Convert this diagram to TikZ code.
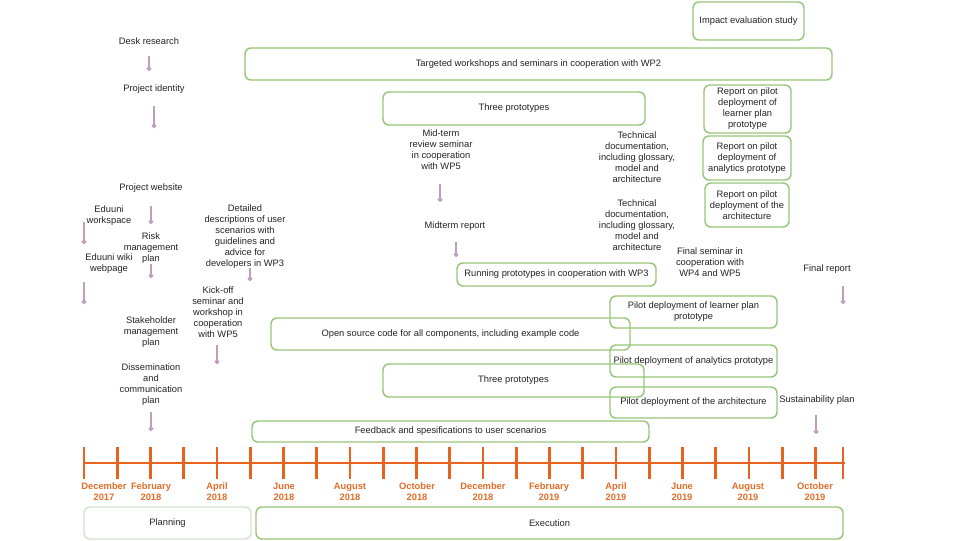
\documentclass[tikz,border=0pt]{standalone}
\usepackage{fontspec}
\setmainfont{Liberation Sans}
\usetikzlibrary{arrows.meta}
\definecolor{boxgreen}{RGB}{150,198,122}
\definecolor{palegreen}{RGB}{210,226,206}
\definecolor{tlorange}{RGB}{232,100,30}
\definecolor{lborange}{RGB}{226,108,40}
\definecolor{mauve}{RGB}{192,158,188}
\definecolor{txt}{RGB}{35,35,35}
\begin{document}
\begin{tikzpicture}[x=0.75pt,y=-0.75pt,
  every node/.style={font=\fontsize{7}{8.25}\selectfont, text=txt, align=center, inner sep=0pt},
  gbox/.style={draw=boxgreen, line width=1.1pt, rounded corners=4.5pt},
  pbox/.style={draw=palegreen, line width=1.1pt, rounded corners=4.5pt},
  marrow/.style={draw=mauve, line width=0.9pt, -{Circle[length=3.4pt]}},
  tl/.style={draw=tlorange, line width=2.2pt},
  mlabel/.style={text=lborange, font=\fontsize{7}{8.25}\selectfont\bfseries}
]
\useasboundingbox (0,0) rectangle (960,540);

% ---------- green boxes ----------
\node[gbox, minimum width=83.25pt, minimum height=28.5pt] (impact) at (748.5,21) {Impact evaluation study};
\node[gbox, minimum width=440.25pt, minimum height=24pt] (targeted) at (538.5,64) {Targeted workshops and seminars in cooperation with WP2};
\node[gbox, minimum width=196.5pt, minimum height=24.75pt] (threeA) at (514,108.5) {Three prototypes};
\node[gbox, minimum width=65.25pt, minimum height=36pt] (repA) at (747.5,109) {Report on pilot\\deployment of\\learner plan\\prototype};
\node[gbox, minimum width=66pt, minimum height=33pt] (repB) at (747,158) {Report on pilot\\deployment of\\analytics prototype};
\node[gbox, minimum width=63pt, minimum height=33pt] (repC) at (747,205) {Report on pilot\\deployment of the\\architecture};
\node[gbox, minimum width=149.25pt, minimum height=17.25pt] (running) at (556.5,274.5) {Running prototypes in cooperation with WP3};
\node[gbox, minimum width=125.25pt, minimum height=24pt] (pilotA) at (693.5,312) {Pilot deployment of learner plan\\prototype};
\node[gbox, minimum width=269.25pt, minimum height=24pt] (opensrc) at (450.5,334) {Open source code for all components, including example code};
\node[gbox, minimum width=125.25pt, minimum height=24pt] (pilotB) at (693.5,361) {Pilot deployment of analytics prototype};
\node[gbox, minimum width=195.75pt, minimum height=24.75pt] (threeB) at (513.5,380.5) {Three prototypes};
\node[gbox, minimum width=125.25pt, minimum height=23.25pt] (pilotC) at (693.5,402.5) {Pilot deployment of the architecture};
\node[gbox, minimum width=297.75pt, minimum height=15.75pt] (feedback) at (450.5,431.5) {Feedback and spesifications to user scenarios};
\node[pbox, minimum width=125.25pt, minimum height=24pt] (planning) at (167.5,523) {Planning};
\node[gbox, minimum width=440.25pt, minimum height=24pt] (execution) at (549.5,523) {Execution};

% ---------- free texts ----------
\node (desk) at (149,41) {Desk research};
\node (ident) at (154,89) {Project identity};
\node (website) at (151,188) {Project website};
\node (eduws) at (109,215.5) {Eduuni\\workspace};
\node (risk) at (151,248) {Risk\\management\\plan};
\node (wiki) at (109,263.5) {Eduuni wiki\\webpage};
\node (detailed) at (245,236.5) {Detailed\\descriptions of user\\scenarios with\\guidelines and\\advice for\\developers in WP3};
\node (kickoff) at (218,312.5) {Kick-off\\seminar and\\workshop in\\cooperation\\with WP5};
\node (stake) at (151,332) {Stakeholder\\management\\plan};
\node (dissem) at (151,384.5) {Dissemination\\and\\communication\\plan};
\node (midsem) at (441,150) {Mid-term\\review seminar\\in cooperation\\with WP5};
\node (midrep) at (455,226) {Midterm report};
\node (techA) at (637,157.5) {Technical\\documentation,\\including glossary,\\model and\\architecture};
\node (techB) at (637,225) {Technical\\documentation,\\including glossary,\\model and\\architecture};
\node (finsem) at (710,262.5) {Final seminar in\\cooperation with\\WP4 and WP5};
\node (finrep) at (827,269) {Final report};
\node (sustain) at (817,400) {Sustainability plan};

% ---------- mauve arrows ----------
\foreach \n/\x/\ya/\yb in {a1/149/56/71, a2/154/106/128, a3/151/206/224, a4/84/222/244,
  a5/151/264/278, a6/84/282/304, a7/250/268/281, a8/217/345/364, a9/151/412/431,
  a10/440/184/202, a11/456/242/257, a12/843/286/304, a13/816/415/434}{
  \coordinate (\n s) at (\x,\ya);
  \coordinate (\n e) at (\x,\yb);
  \draw[marrow] (\n s) -- (\n e);
}

% ---------- timeline ----------
\coordinate (tlL) at (83,463);
\coordinate (tlR) at (845,463);
\draw[tl] (tlL) -- (tlR);
\foreach \k in {0,...,22}{
  \draw[tl] ({84+\k*33.25},447) -- ({84+\k*33.25},479);
}
\draw[tl] (843,447) -- (843,479);

\foreach \x/\m/\yr in {104/December/2017, 151/February/2018, 217/April/2018, 284/June/2018,
  350/August/2018, 417/October/2018, 483/December/2018, 549/February/2019, 616/April/2019,
  682/June/2019, 748/August/2019, 815/October/2019}{
  \node[mlabel] at (\x,491.5) {\m\\\yr};
}
\end{tikzpicture}
\end{document}
